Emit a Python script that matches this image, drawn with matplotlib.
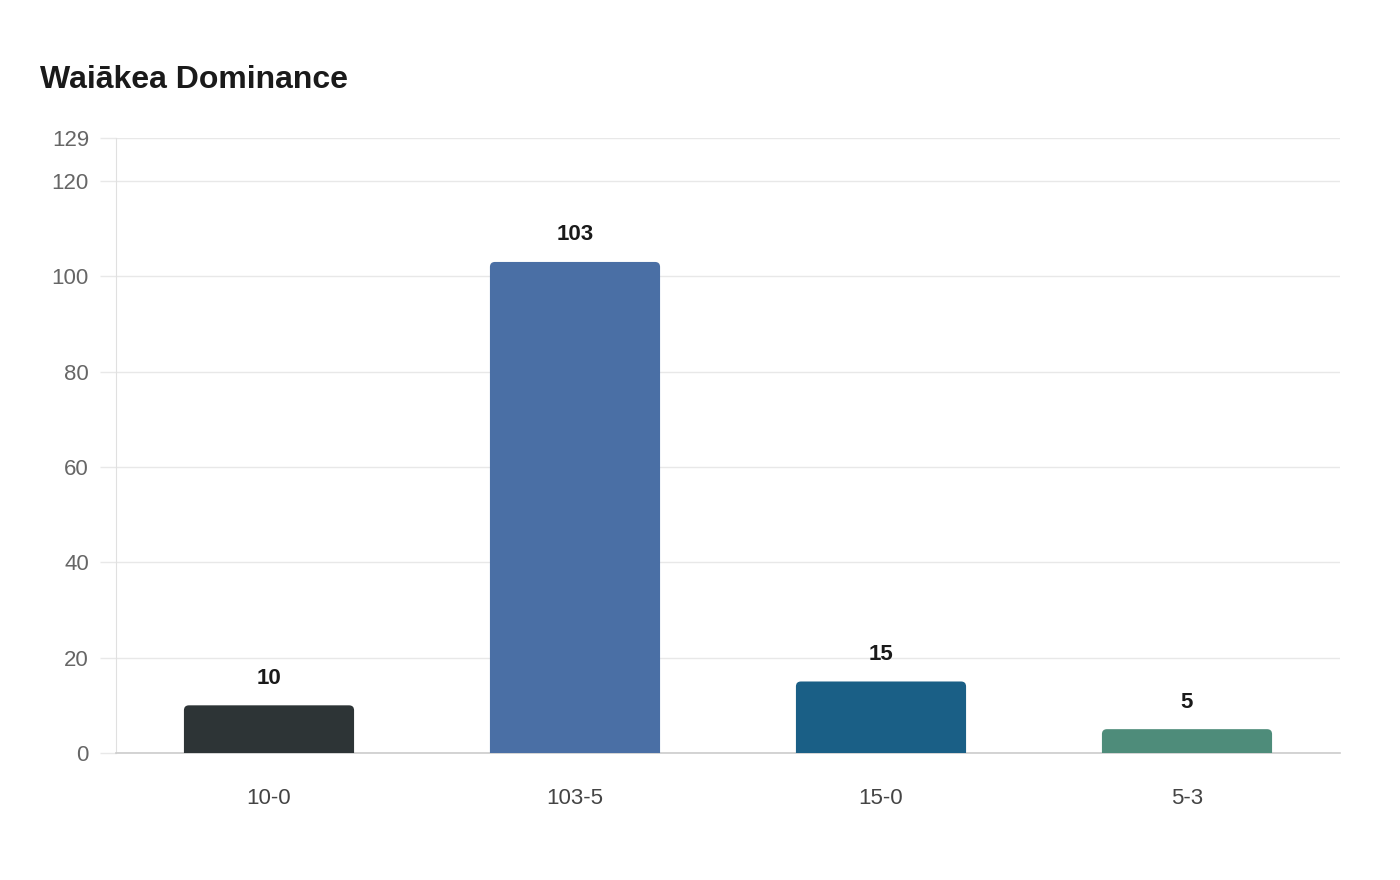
import matplotlib

matplotlib.use("Agg")
import matplotlib.pyplot as plt
from matplotlib.path import Path
from matplotlib.patches import PathPatch

plt.rcParams["font.family"] = ["Liberation Sans", "DejaVu Sans"]

categories = ["10-0", "103-5", "15-0", "5-3"]
values = [10, 103, 15, 5]
colors = ["#2d3436", "#4a6fa5", "#1a5f86", "#4e8c7a"]
y_ticks = [0, 20, 40, 60, 80, 100, 120, 129]

FIG_W, FIG_H = 1400, 880
AX_L, AX_R, AX_T, AX_B = 116, 1340, 138, 753
Y_MAX = 129

fig = plt.figure(figsize=(FIG_W / 100, FIG_H / 100), dpi=100)
ax = fig.add_axes([
    AX_L / FIG_W,
    1 - AX_B / FIG_H,
    (AX_R - AX_L) / FIG_W,
    (AX_B - AX_T) / FIG_H,
])

positions = list(range(len(categories)))
bar_width = 0.556
bars = ax.bar(positions, values, width=bar_width, color=colors, zorder=3)

# rounded top corners, radius given in pixels
px_per_x = (AX_R - AX_L) / len(categories)
px_per_y = (AX_B - AX_T) / Y_MAX
radius_px = 5
for bar in bars:
    bar.set_visible(False)
    x0, y0 = bar.get_x(), bar.get_y()
    w, h = bar.get_width(), bar.get_height()
    rx = radius_px / px_per_x
    ry = min(radius_px / px_per_y, h)
    verts = [
        (x0, y0), (x0, y0 + h - ry), (x0, y0 + h), (x0 + rx, y0 + h),
        (x0 + w - rx, y0 + h), (x0 + w, y0 + h), (x0 + w, y0 + h - ry),
        (x0 + w, y0), (x0, y0),
    ]
    codes = [
        Path.MOVETO, Path.LINETO, Path.CURVE3, Path.CURVE3,
        Path.LINETO, Path.CURVE3, Path.CURVE3,
        Path.LINETO, Path.CLOSEPOLY,
    ]
    ax.add_patch(PathPatch(Path(verts, codes), facecolor=bar.get_facecolor(),
                           edgecolor="none", zorder=3))

for pos, val in zip(positions, values):
    ax.annotate(str(val), (pos, val), xytext=(0, 27 * 0.72),
                textcoords="offset points", ha="center", va="center",
                fontsize=16, fontweight="bold", color="#1a1a1a")

ax.set_xlim(-0.5, len(categories) - 0.5)
ax.set_ylim(0, Y_MAX)
ax.set_xticks(positions)
ax.set_xticklabels(categories)
ax.set_yticks(y_ticks)

ax.grid(axis="y", color="#e8e8e8", linewidth=1, zorder=0)
ax.tick_params(axis="y", length=11.5, color="#e8e8e8", width=1, pad=8,
               labelsize=16, labelcolor="#666666")
ax.tick_params(axis="x", length=0, pad=25, labelsize=16, labelcolor="#444444")

for side in ("top", "right"):
    ax.spines[side].set_visible(False)
ax.spines["left"].set_color("#e0e0e0")
ax.spines["bottom"].set_color("#cccccc")
ax.spines["bottom"].set_linewidth(1.2)

fig.text(40 / FIG_W, 1 - 80 / FIG_H, "Waiākea Dominance", ha="left",
         va="center", fontsize=23, fontweight="bold", color="#1a1a1a")

fig.savefig("out.png", dpi=100, facecolor="white")
